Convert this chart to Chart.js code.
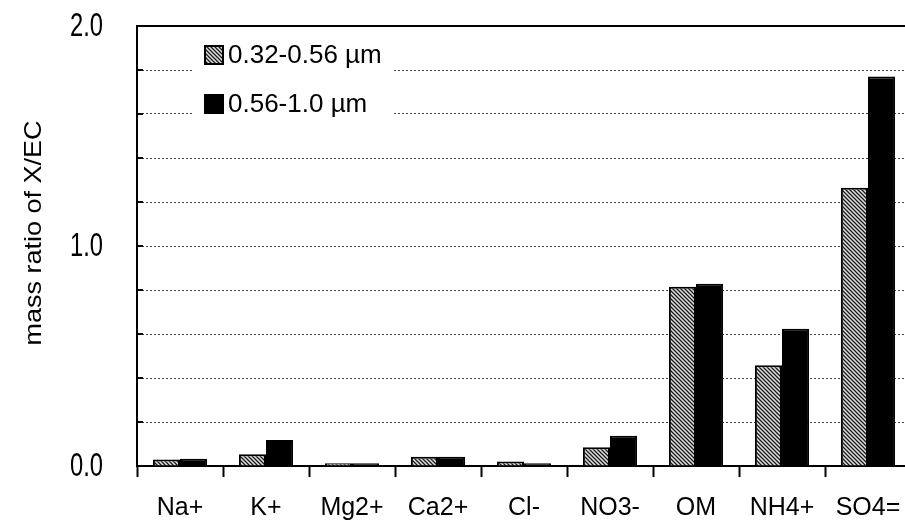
<!DOCTYPE html>
<html>
<head>
<meta charset="utf-8">
<script src="https://cdn.jsdelivr.net/npm/chart.js@4.4.0/dist/chart.umd.min.js"></script>
<style>
  html, body { margin: 0; padding: 0; background: #fff; overflow: hidden; }
  .wrap { width: 905px; height: 525px; overflow: hidden; }
</style>
</head>
<body>
<div class="wrap">
  <canvas id="ratioChart" width="911" height="525"></canvas>
</div>
<script>
// species on the x axis
const species = ["Na+", "K+", "Mg2+", "Ca2+", "Cl-", "NO3-", "OM", "NH4+", "SO4="];
// mass ratio X/EC for each size bin
const fine032 = [0.030, 0.053, 0.012, 0.042, 0.020, 0.085, 0.815, 0.458, 1.265];
const fine056 = [0.033, 0.118, 0.012, 0.042, 0.012, 0.138, 0.828, 0.624, 1.770];
const seriesNames = ["0.32-0.56 \u00b5m", "0.56-1.0 \u00b5m"];
const yLabelsShown = [0, 1, 2];
const yTitle = "mass ratio of X/EC";

const sansFont = "'Liberation Sans', Arial, sans-serif";

// diagonal hatch like the old excel fill
function makeHatch() {
    const c = document.createElement("canvas");
    c.width = 4;
    c.height = 4;
    const g = c.getContext("2d");
    g.fillStyle = "#e0e0e0";
    g.fillRect(0, 0, 4, 4);
    g.strokeStyle = "#1a1a1a";
    g.lineWidth = 1.3;
    g.beginPath();
    g.moveTo(-1, -1); g.lineTo(5, 5);
    g.moveTo(-1, 3); g.lineTo(1, 5);
    g.moveTo(3, -1); g.lineTo(5, 1);
    g.stroke();
    return document.getElementById("ratioChart").getContext("2d").createPattern(c, "repeat");
}
const hatch = makeHatch();

// top frame line, inward y ticks, condensed y labels, title and boxed legend
const framePlugin = {
    id: "frame",
    afterDatasetsDraw(chart) {
        const { ctx, chartArea } = chart;
        const y = chart.scales.y;
        ctx.save();
        ctx.strokeStyle = "#000";
        ctx.lineWidth = 2;
        ctx.beginPath();
        ctx.moveTo(chartArea.left - 1, chartArea.top);
        ctx.lineTo(chartArea.right + 1, chartArea.top);
        ctx.moveTo(chartArea.right, chartArea.top);
        ctx.lineTo(chartArea.right, chartArea.bottom);
        y.ticks.forEach((t) => {
            const py = y.getPixelForValue(t.value);
            ctx.moveTo(chartArea.left, py);
            ctx.lineTo(chartArea.left + 6, py);
        });
        ctx.stroke();

        // y labels, squeezed like the original
        ctx.fillStyle = "#000";
        ctx.font = "33px " + sansFont;
        ctx.textAlign = "right";
        ctx.textBaseline = "middle";
        yLabelsShown.forEach((v) => {
            const py = y.getPixelForValue(v);
            ctx.save();
            ctx.translate(103, py + 1);
            ctx.scale(0.72, 1);
            ctx.fillText(v.toFixed(1), 0, 0);
            ctx.restore();
        });

        // rotated axis title
        ctx.save();
        ctx.translate(34, 233);
        ctx.rotate(-Math.PI / 2);
        ctx.scale(1, 0.88);
        ctx.textAlign = "center";
        ctx.font = "27px " + sansFont;
        ctx.fillText(yTitle, 0, 0);
        ctx.restore();

        // legend
        ctx.textAlign = "left";
        const lx = 193, ly = 36;
        ctx.fillStyle = "#fff";
        ctx.fillRect(lx, ly, 199, 86);
        const fills = [hatch, "#000"];
        const rows = [55, 104];
        ctx.font = "26px " + sansFont;
        seriesNames.forEach((name, i) => {
            ctx.fillStyle = fills[i];
            ctx.fillRect(205, rows[i] - 9, 18, 18);
            ctx.strokeStyle = "#000";
            ctx.lineWidth = 2;
            ctx.strokeRect(205, rows[i] - 9, 18, 18);
            ctx.fillStyle = "#000";
            ctx.fillText(name, 228, rows[i] + 1);
        });
        ctx.restore();
    }
};

new Chart(document.getElementById("ratioChart"), {
    type: "bar",
    data: {
        labels: species,
        datasets: [
            {
                label: seriesNames[0],
                data: fine032,
                backgroundColor: hatch,
                borderColor: "#000",
                borderWidth: 2,
                categoryPercentage: 0.63,
                barPercentage: 1.0,
            },
            {
                label: seriesNames[1],
                data: fine056,
                backgroundColor: "#000",
                borderColor: "#000",
                borderWidth: 2,
                categoryPercentage: 0.63,
                barPercentage: 1.0,
            },
        ],
    },
    options: {
        responsive: false,
        animation: false,
        layout: { padding: { top: 26, right: 0, left: 0, bottom: 0 } },
        plugins: {
            legend: { display: false },
            tooltip: { enabled: false },
        },
        scales: {
            x: {
                grid: {
                    offset: true,
                    drawOnChartArea: false,
                    drawTicks: true,
                    tickLength: 11,
                    tickColor: "#000",
                    tickWidth: 2,
                },
                border: { color: "#000", width: 2 },
                ticks: {
                    color: "#000",
                    padding: 16,
                    maxRotation: 0,
                    autoSkip: false,
                    font: { family: sansFont, size: 25 },
                },
                afterFit(scale) {
                    scale.height = 59;
                    scale.paddingLeft = 0;
                    scale.paddingRight = 0;
                },
            },
            y: {
                min: 0,
                max: 2,
                grid: {
                    color: "#444",
                    lineWidth: 1,
                    drawTicks: false,
                },
                border: { color: "#000", width: 2, dash: [2, 2] },
                ticks: {
                    stepSize: 0.2,
                    autoSkip: false,
                    padding: 0,
                    font: { size: 10 },
                    callback: () => "",
                },
                afterFit(scale) {
                    scale.width = 137;
                    scale.paddingTop = 0;
                    scale.paddingBottom = 0;
                },
            },
        },
    },
    plugins: [framePlugin],
});
</script>
</body>
</html>
